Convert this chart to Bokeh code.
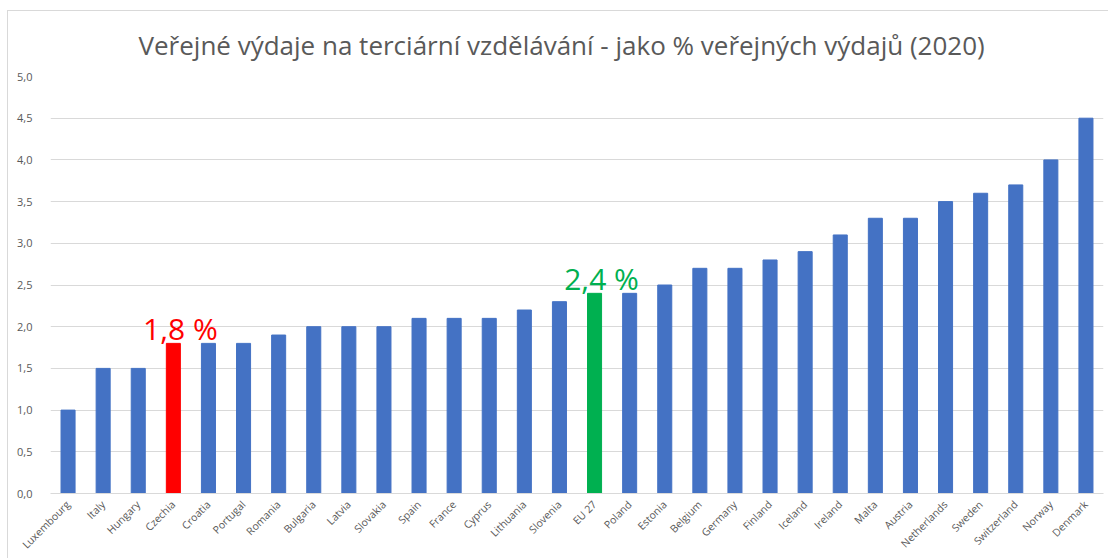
from bokeh.plotting import figure
from bokeh.models import ColumnDataSource, CustomJSTickFormatter, FactorRange, Range1d
from bokeh.embed import file_html
from bokeh.resources import INLINE
from bokeh.core.properties import value
import math

countries = ["Luxembourg", "Italy", "Hungary", "Czechia", "Croatia", "Portugal", "Romania",
             "Bulgaria", "Latvia", "Slovakia", "Spain", "France", "Cyprus", "Lithuania",
             "Slovenia", "EU 27", "Poland", "Estonia", "Belgium", "Germany", "Finland",
             "Iceland", "Ireland", "Malta", "Austria", "Netherlands", "Sweden",
             "Switzerland", "Norway", "Denmark"]
values = [1.0, 1.5, 1.5, 1.8, 1.8, 1.8, 1.9, 2.0, 2.0, 2.0, 2.1, 2.1, 2.1, 2.2, 2.3,
          2.4, 2.4, 2.5, 2.7, 2.7, 2.8, 2.9, 3.1, 3.3, 3.3, 3.5, 3.6, 3.7, 4.0, 4.5]
highlight_names = ["Czechia", "EU 27"]
highlight_texts = ["1,8 %", "2,4 %"]
title_text = "Veřejné výdaje na terciární vzdělávání - jako % veřejných výdajů (2020)"

BLUE, RED, GREEN = "#4472C4", "#FF0000", "#00B050"
hl_colors = {"Czechia": RED, "EU 27": GREEN}
bar_colors = [hl_colors.get(c, BLUE) for c in countries]

src = ColumnDataSource(dict(x=countries, top=values, color=bar_colors))
hl_vals = [values[countries.index(n)] for n in highlight_names]
lab_src = ColumnDataSource(dict(x=highlight_names, y=hl_vals, text=highlight_texts,
                                color=[hl_colors[n] for n in highlight_names]))

FONT = "Open Sans"

p = figure(x_range=FactorRange(*countries, range_padding=0), y_range=Range1d(0, 5),
           width=1101, height=548, output_backend="svg", toolbar_location=None,
           min_border_left=42, min_border_right=6, min_border_top=65, min_border_bottom=66)
p.styles = {"margin-left": "7px", "margin-top": "10px",
            "border-top": "1px solid #d9d9d9", "border-left": "1px solid #d9d9d9"}

p.vbar(x="x", top="top", width=0.4, color="color", source=src)
p.text(x="x", y="y", text="text", text_color="color", source=lab_src,
       text_font=value(FONT), text_font_size="30px", text_align="center",
       text_baseline="alphabetic", x_offset=7, y_offset=-15)

p.title.text = title_text
p.title.align = "left"
p.title.offset = 88
p.title.text_font = FONT
p.title.text_font_size = "26px"
p.title.text_font_style = "normal"
p.title.text_color = "#595959"
p.title.standoff = 27

p.outline_line_color = None
p.xgrid.grid_line_color = None
p.ygrid.grid_line_color = "#d9d9d9"
p.yaxis.ticker = [0, 0.5, 1, 1.5, 2, 2.5, 3, 3.5, 4, 4.5, 5]
p.yaxis.formatter = CustomJSTickFormatter(code="return tick.toFixed(1).replace('.', ',');")
p.yaxis.axis_line_color = None
p.yaxis.major_tick_line_color = None
p.yaxis.minor_tick_line_color = None
p.yaxis.major_label_text_font = FONT
p.yaxis.major_label_text_font_size = "11px"
p.yaxis.major_label_text_color = "#595959"
p.yaxis.major_label_standoff = 12

p.xaxis.axis_line_color = "#d9d9d9"
p.xaxis.major_tick_line_color = None
p.xaxis.major_label_orientation = math.pi / 4
p.xaxis.major_label_text_font = FONT
p.xaxis.major_label_text_font_size = "10.5px"
p.xaxis.major_label_text_color = "#595959"
p.xaxis.major_label_standoff = 3

open("out.html", "w").write(file_html(p, INLINE))
